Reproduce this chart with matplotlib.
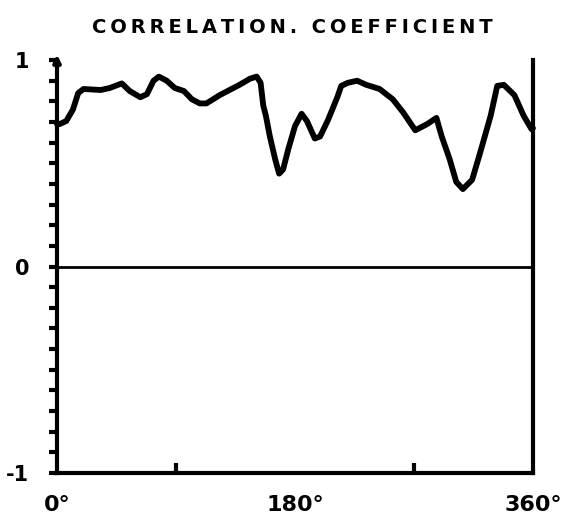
import numpy as np
import matplotlib.pyplot as plt

# correlation coefficient vs. angle
angle = [0, 2, 7, 12, 16, 20, 33, 40, 49, 55, 63, 68, 73, 77, 83, 89, 96, 102,
         108, 113, 123, 138, 146, 151, 154, 156, 158, 161, 165, 168, 171, 175,
         180, 185, 189, 195, 199, 205, 212, 215, 220, 227, 234, 244, 254, 262,
         271, 280, 287, 291, 297, 302, 307, 314, 320, 328, 333, 338, 346, 353,
         359, 360]
corr = [0.69, 0.69, 0.705, 0.76, 0.84, 0.86, 0.855, 0.865, 0.887, 0.85, 0.82,
        0.835, 0.90, 0.92, 0.90, 0.865, 0.85, 0.81, 0.79, 0.79, 0.83, 0.88,
        0.91, 0.92, 0.89, 0.78, 0.73, 0.63, 0.52, 0.45, 0.47, 0.57, 0.68, 0.74,
        0.705, 0.62, 0.63, 0.71, 0.82, 0.875, 0.89, 0.90, 0.88, 0.86, 0.81,
        0.745, 0.66, 0.69, 0.72, 0.63, 0.52, 0.41, 0.375, 0.42, 0.55, 0.73,
        0.875, 0.88, 0.83, 0.73, 0.665, 0.67]
xtick_pos = [0, 180, 360]
xtick_lab = ["0°", "180°", "360°"]
ytick_pos = [-1, 0, 1]
ytick_lab = ["-1", "0", "1"]
title = "CORRELATION. COEFFICIENT"

fig = plt.figure(figsize=(5.72, 5.22), dpi=100)
ax = fig.add_axes([0.0997, 0.0939, 0.832, 0.791])
ax.set_xlim(0, 360)
ax.set_ylim(-1, 1)

ax.plot(angle, corr, color="black", lw=4.2, solid_capstyle="round",
        solid_joinstyle="round", clip_on=False)
ax.axhline(0, color="black", lw=2)

ax.spines["top"].set_visible(False)
for s in ["left", "right", "bottom"]:
    ax.spines[s].set_linewidth(3)

# little arrow on top of the y axis
ax.annotate("", xy=(0, 1.04), xytext=(0, 0.95), xycoords="data",
            arrowprops=dict(arrowstyle="-|>", color="black", lw=3,
                            mutation_scale=10), annotation_clip=False)

# minor y ticks every 0.1 pointing outward
ax.set_yticks(np.arange(-1, 1.01, 0.1), minor=True)
ax.tick_params(axis="y", which="minor", direction="out", length=6, width=3)
ax.set_yticks(ytick_pos, ytick_lab)
ax.tick_params(axis="y", which="major", direction="out", length=6, width=3,
               labelsize=15, pad=14)
for t in ax.get_yticklabels():
    t.set_fontweight("bold")

ax.set_xticks([90, 180, 270], minor=True)
ax.tick_params(axis="x", which="minor", direction="in", length=7, width=3)
ax.set_xticks(xtick_pos, xtick_lab)
ax.tick_params(axis="x", which="major", length=0, labelsize=16, pad=16)
for t in ax.get_xticklabels():
    t.set_fontweight("bold")

# letter-spaced title like the hand lettering
fig.text(0.511, 0.948, "\u2009".join(title), ha="center", va="center",
         fontsize=14, fontweight="bold")

fig.savefig("out.png", dpi=100)
